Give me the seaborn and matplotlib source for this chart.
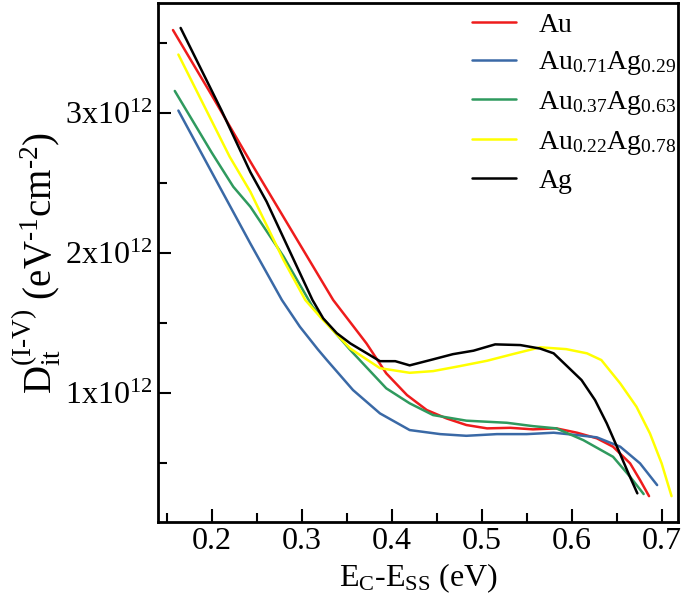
import matplotlib
matplotlib.use("Agg")
import matplotlib.pyplot as plt
from matplotlib.ticker import MultipleLocator
import seaborn as sns
import pandas as pd
import numpy as np

# E_C - E_SS (eV) vs D_it (in units of 1e12 eV^-1 cm^-2)
au_x = [0.157, 0.200, 0.243, 0.290, 0.335, 0.372, 0.394, 0.417, 0.439, 0.461, 0.483,
        0.506, 0.532, 0.557, 0.583, 0.606, 0.628, 0.646, 0.665, 0.676, 0.686]
au_y = [3.595, 3.13, 2.655, 2.15, 1.667, 1.357, 1.143, 0.988, 0.881, 0.821, 0.774,
        0.750, 0.754, 0.743, 0.750, 0.719, 0.679, 0.619, 0.500, 0.381, 0.266]

au71_x = [0.163, 0.200, 0.243, 0.278, 0.298, 0.318, 0.328, 0.357, 0.387, 0.420, 0.454,
          0.483, 0.517, 0.550, 0.580, 0.606, 0.628, 0.654, 0.676, 0.695]
au71_y = [3.02, 2.58, 2.07, 1.667, 1.476, 1.314, 1.238, 1.024, 0.857, 0.738, 0.709,
          0.697, 0.709, 0.709, 0.719, 0.702, 0.686, 0.619, 0.500, 0.345]

au37_x = [0.159, 0.200, 0.224, 0.243, 0.280, 0.312, 0.354, 0.394, 0.420, 0.446, 0.483,
          0.528, 0.557, 0.583, 0.613, 0.646, 0.665, 0.680]
au37_y = [3.16, 2.72, 2.476, 2.333, 1.976, 1.62, 1.31, 1.036, 0.929, 0.845, 0.805,
          0.790, 0.766, 0.750, 0.666, 0.547, 0.404, 0.281]

au22_x = [0.163, 0.220, 0.243, 0.280, 0.304, 0.322, 0.354, 0.387, 0.420, 0.446, 0.476,
          0.506, 0.535, 0.565, 0.594, 0.617, 0.633, 0.654, 0.672, 0.687, 0.700, 0.711]
au22_y = [3.42, 2.69, 2.44, 1.95, 1.667, 1.536, 1.32, 1.18, 1.147, 1.159, 1.195,
          1.233, 1.281, 1.329, 1.316, 1.286, 1.238, 1.071, 0.905, 0.714, 0.500, 0.266]

ag_x = [0.1655, 0.211, 0.243, 0.261, 0.312, 0.324, 0.339, 0.354, 0.387, 0.404, 0.420,
        0.446, 0.468, 0.491, 0.515, 0.543, 0.565, 0.580, 0.594, 0.611, 0.626, 0.639,
        0.652, 0.663, 0.673]
ag_y = [3.61, 3.02, 2.58, 2.37, 1.667, 1.535, 1.43, 1.357, 1.23, 1.23, 1.20,
        1.243, 1.28, 1.305, 1.35, 1.345, 1.32, 1.286, 1.20, 1.095, 0.952, 0.786,
        0.595, 0.43, 0.286]

labels = ['Au', r'Au$_{0.71}$Ag$_{0.29}$', r'Au$_{0.37}$Ag$_{0.63}$',
          r'Au$_{0.22}$Ag$_{0.78}$', 'Ag']
colors = ['#ee1c1c', '#3a69a6', '#2f9a5e', '#ffff00', '#000000']

y_ticks = [1e12, 2e12, 3e12]
y_ticklabels = ['1x10$^{12}$', '2x10$^{12}$', '3x10$^{12}$']
x_ticks = [0.2, 0.3, 0.4, 0.5, 0.6, 0.7]

sns.set_style("ticks")
plt.rcParams['font.family'] = ['Liberation Serif', 'DejaVu Serif']
plt.rcParams['mathtext.fontset'] = 'custom'
plt.rcParams['mathtext.rm'] = 'Liberation Serif'
plt.rcParams['mathtext.it'] = 'Liberation Serif:italic'
for key in ['text.color', 'axes.labelcolor', 'xtick.color', 'ytick.color']:
    plt.rcParams[key] = 'black'

# long-form table for seaborn
frames = []
for name, xs, ys in zip(labels, [au_x, au71_x, au37_x, au22_x, ag_x],
                        [au_y, au71_y, au37_y, au22_y, ag_y]):
    frames.append(pd.DataFrame({'E': xs, 'D': np.array(ys) * 1e12, 'sample': name}))
df = pd.concat(frames, ignore_index=True)

fig = plt.figure(figsize=(6.85, 6.15), dpi=100)
ax = fig.add_axes([0.2302, 0.1507, 0.7600, 0.8439])

sns.lineplot(data=df, x='E', y='D', hue='sample', hue_order=labels, palette=colors,
             linewidth=1.8, sort=False, estimator=None, ax=ax)

ax.set_xlim(0.14, 0.7185)
ax.set_ylim(0.079e12, 3.786e12)
ax.set_xticks(x_ticks)
ax.set_xticklabels([f'{t:.1f}' for t in x_ticks])
ax.xaxis.set_minor_locator(MultipleLocator(0.05))
ax.set_yticks(y_ticks)
ax.set_yticklabels(y_ticklabels)
ax.yaxis.set_minor_locator(MultipleLocator(0.5e12))

ax.tick_params(which='major', direction='in', length=9.5, width=1.5, labelsize=23)
ax.tick_params(which='minor', direction='in', length=6.5, width=1.5)
for sp in ax.spines.values():
    sp.set_linewidth(2)
    sp.set_color('black')

ax.set_xlabel(r'E$_{\rm C}$-E$_{\rm SS}$ (eV)', fontsize=23)
ax.set_ylabel('D$_{\\rm it}^{\\rm (I\u2010V)}$ (eV$^{\u20101}$cm$^{\u20102}$)',
              fontsize=28, labelpad=2)

ax.legend(loc='upper left', bbox_to_anchor=(0.603, 0.983), frameon=False, fontsize=20,
          handlelength=1.6, handletextpad=0.8, labelspacing=0.42, borderpad=0,
          borderaxespad=0)

fig.savefig('out.png', dpi=100)
plt.close(fig)
